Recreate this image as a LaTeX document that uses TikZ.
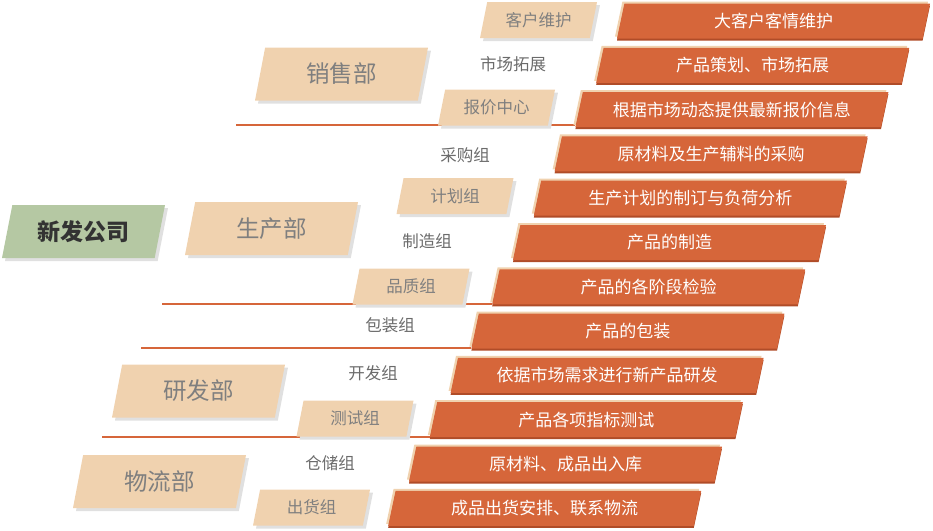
\documentclass[tikz,border=0pt]{standalone}
\usepackage{fontspec}
\setmainfont{Noto Sans CJK SC}
\usepackage{tikz}
\usetikzlibrary{shapes.geometric,shadows,backgrounds}
\definecolor{rust}{HTML}{D6663A}
\definecolor{darkrust}{HTML}{B04C28}
\definecolor{peach}{HTML}{F0D2AF}
\definecolor{sage}{HTML}{B5C8A3}
\definecolor{greytext}{HTML}{7F7F7F}
\definecolor{darktext}{HTML}{333333}
\def\slant{65}

\begin{document}
\begin{tikzpicture}[x=1pt, y=-1pt,
  para/.style={trapezium, trapezium left angle=\slant, trapezium right angle=115,
    trapezium stretches body, inner sep=0pt},
  firm/.style={para, fill=sage, text=darktext, minimum width=163pt, minimum height=53pt,
    font=\fontsize{23}{24}\selectfont\bfseries,
    general shadow={fill=black!12, shadow xshift=3pt, shadow yshift=-3pt}},
  dept/.style={para, fill=peach, text=greytext, minimum width=173pt, minimum height=53pt,
    font=\fontsize{23.5}{24}\selectfont,
    general shadow={fill=black!12, shadow xshift=3pt, shadow yshift=-3pt}},
  group/.style={para, fill=peach, text=greytext, minimum width=117pt, minimum height=36pt,
    font=\fontsize{16.5}{17}\selectfont,
    general shadow={fill=black!12, shadow xshift=3pt, shadow yshift=-3pt}},
  grouptext/.style={text=black!58, font=\fontsize{16.5}{17}\selectfont},
  task/.style={para, fill=rust, text=white, minimum width=313pt, minimum height=35pt,
    font=\fontsize{17}{18}\selectfont,
    general shadow={fill=peach, shadow xshift=-2pt, shadow yshift=2pt},
    general shadow={fill=darkrust, shadow yshift=-2pt}},
  split/.style={color=rust, line width=1.1pt}]

\useasboundingbox (0,0) rectangle (933,530);

% company

\node[firm] (firm) at (83.5,231.5) {新发公司};

% departments

\node[dept] (sales) at (341.5,74) {销售部};
\node[dept] (prod) at (271.5,228.5) {生产部};
\node[dept] (rnd) at (198.5,391) {研发部};
\node[dept] (logi) at (159.5,481.5) {物流部};

% groups

\node[group] (g1) at (538.5,20) {客户维护};
\node[grouptext] (g2) at (513,64) {市场拓展};
\node[group] (g3) at (496.5,107.5) {报价中心};
\node[grouptext] (g4) at (465,155) {采购组};
\node[group] (g5) at (455,196) {计划组};
\node[grouptext] (g6) at (427,241) {制造组};
\node[group] (g7) at (411,286.5) {品质组};
\node[grouptext] (g8) at (390,325) {包装组};
\node[grouptext] (g9) at (373,373) {开发组};
\node[group] (g10) at (355,418.5) {测试组};
\node[grouptext] (g11) at (330,463) {仓储组};
\node[group] (g12) at (311.5,507.5) {出货组};

% tasks

\node[task] (t1) at (773.5,21) {大客户客情维护};
\node[task] (t2) at (752.7,65.3) {产品策划、市场拓展};
\node[task] (t3) at (731.9,109.6) {根据市场动态提供最新报价信息};
\node[task] (t4) at (711.1,153.9) {原材料及生产辅料的采购};
\node[task] (t5) at (690.3,198.2) {生产计划的制订与负荷分析};
\node[task] (t6) at (669.5,242.5) {产品的制造};
\node[task] (t7) at (648.7,286.8) {产品的各阶段检验};
\node[task] (t8) at (627.9,331.1) {产品的包装};
\node[task] (t9) at (607.1,375.4) {依据市场需求进行新产品研发};
\node[task] (t10) at (586.3,419.7) {产品各项指标测试};
\node[task] (t11) at (565.5,464) {原材料、成品出入库};
\node[task] (t12) at (544.7,508.3) {成品出货安排、联系物流};

% dividers, behind the boxes

\coordinate (s1) at (236,125);
\coordinate (s2) at (162,304);
\coordinate (s3) at (141,348);
\coordinate (s4) at (102,437);
\begin{scope}[on background layer]
\draw[split] (s1) -- (s1 -| t3.bottom left corner);
\draw[split] (s2) -- (s2 -| t7.bottom left corner);
\draw[split, line width=2pt] (s3) -- (s3 -| t8.bottom left corner);
\draw[split] (s4) -- (s4 -| t10.bottom left corner);
\end{scope}

\end{tikzpicture}
\end{document}
